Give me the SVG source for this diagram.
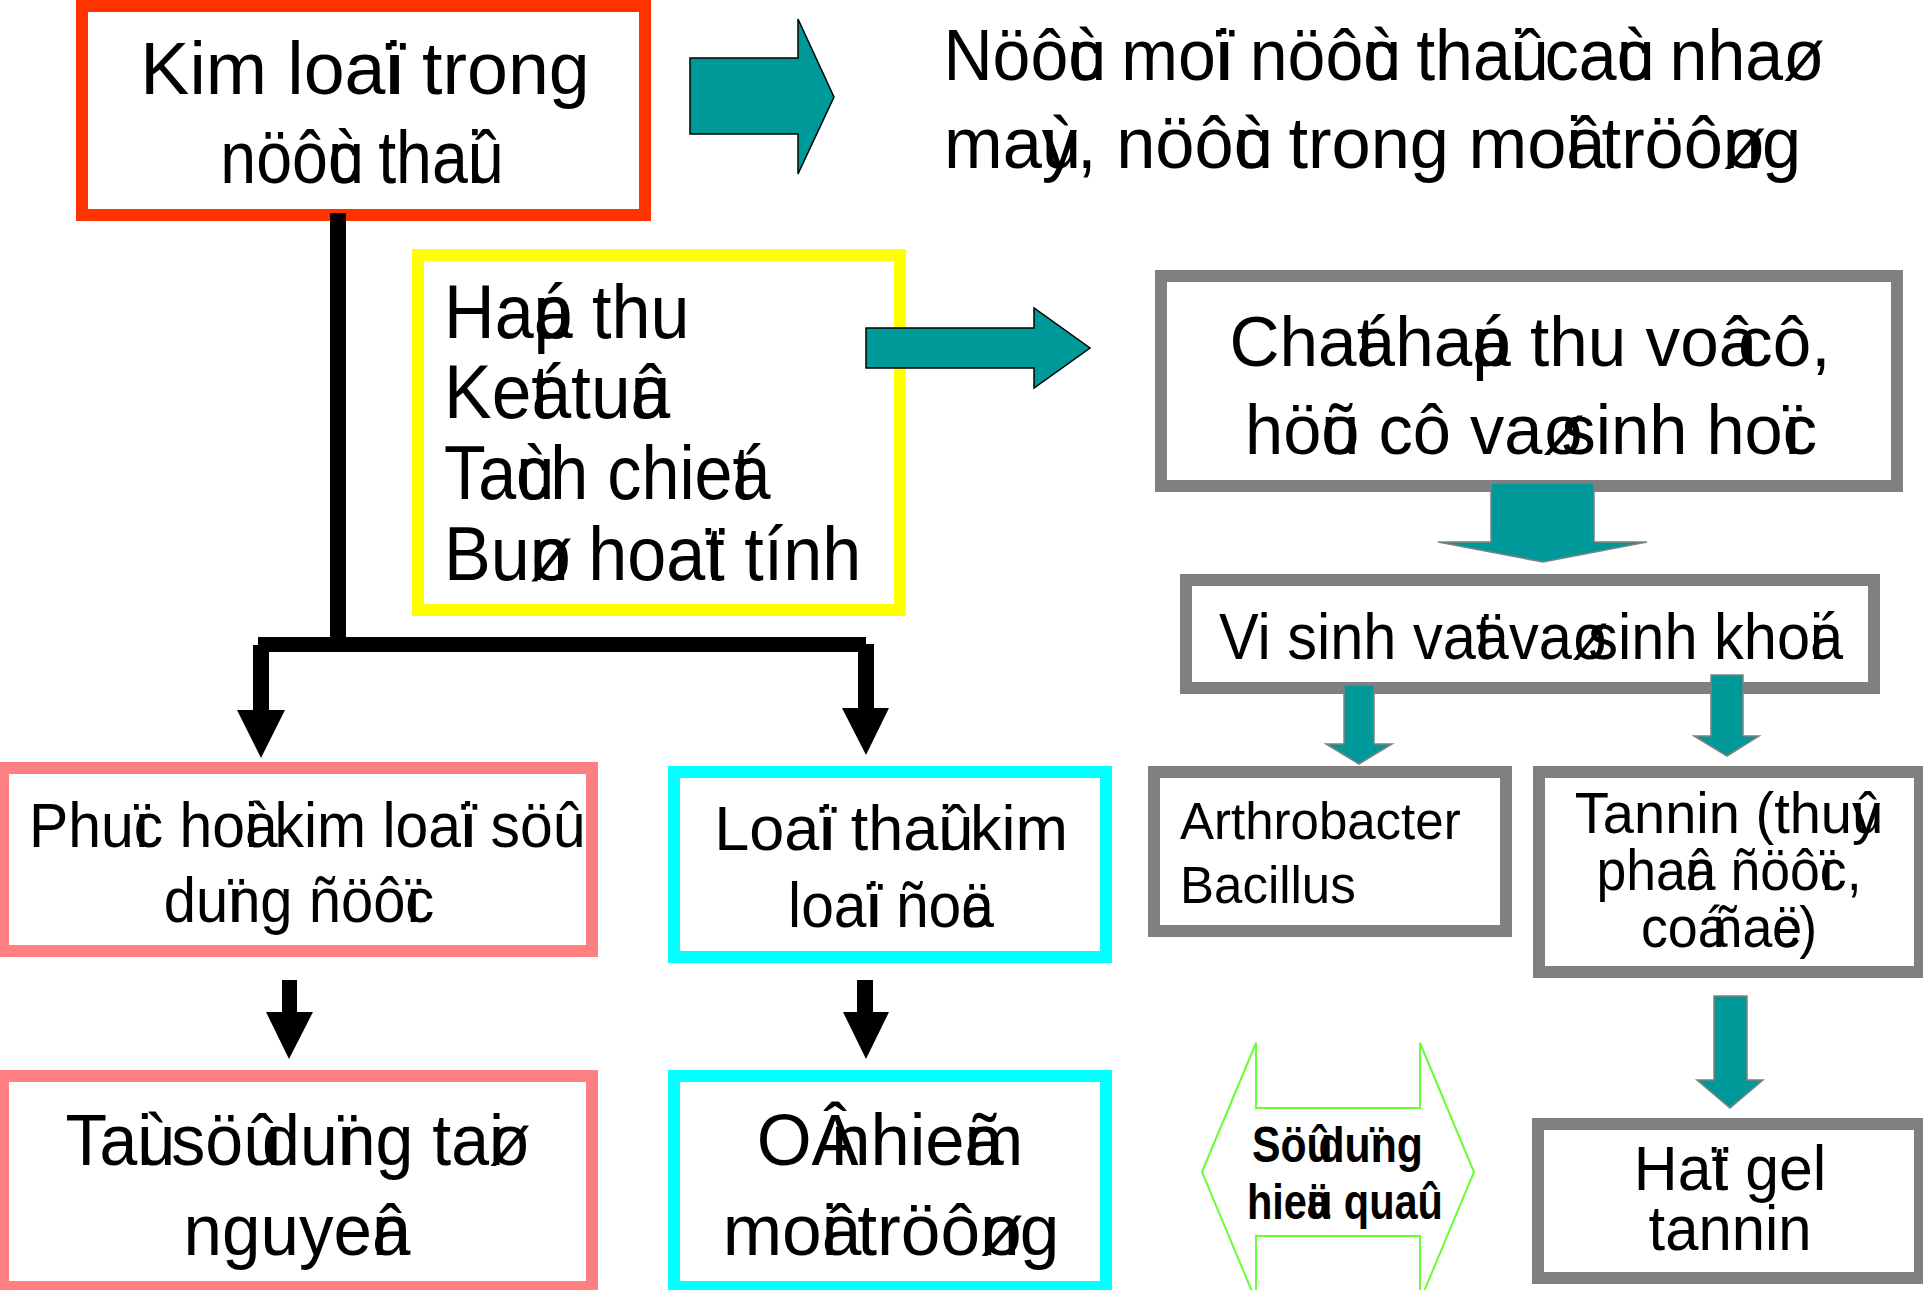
<svg xmlns="http://www.w3.org/2000/svg" width="1923" height="1290" viewBox="0 0 1923 1290">
  <style>
    .box { fill: #fff; stroke-width: 12; }
    .red { stroke: #FF3300; }
    .yel { stroke: #FFFF00; }
    .gray { stroke: #808080; }
    .pink { stroke: #FF8080; }
    .cyan { stroke: #00FFFF; }
    .t { font-family: "Liberation Sans", Arial, sans-serif; fill: #000; white-space: pre; }
    .b { font-weight: bold; }
    .mid { text-anchor: middle; }
    .teal { fill: #009999; stroke: #000; stroke-width: 1.5; }
    .tealg { fill: #009999; stroke: #808080; stroke-width: 1.5; }
    .blk { fill: #000; }
    .dbl { fill: none; stroke: #66FF33; stroke-width: 2; }
  </style>
  <rect width="1923" height="1290" fill="#fff"/>

  <!-- source: metals in wastewater -->
  <g id="node-kim-loai">
    <rect class="box red" x="82" y="6" width="563" height="209"/>
    <text class="t mid" font-size="75" transform="translate(365,94) scale(0.98,1)">Kim loaï<tspan dx="-20.9">i</tspan> trong</text>
    <text class="t mid" font-size="75" transform="translate(362,183) scale(0.86,1)">nöôù<tspan dx="-41.7">c</tspan> thaû<tspan dx="-41.7">i</tspan></text>
  </g>

  <g id="node-nguon">
    <text class="t" font-size="72" transform="translate(943.5,80) scale(0.945,1)">Nöôù<tspan dx="-40">c</tspan> moï<tspan dx="-20">i</tspan> nöôù<tspan dx="-40">c</tspan> thaû<tspan dx="-40">i</tspan> caù<tspan dx="-40">c</tspan> nhaø</text>
    <text class="t" font-size="72" transform="translate(944,168) scale(0.978,1)">maù<tspan dx="-40">y</tspan>, nöôù<tspan dx="-40">c</tspan> trong moâ<tspan dx="-40">i</tspan> tröôø<tspan dx="-44">n</tspan>g</text>
  </g>

  <g id="node-phuong-phap">
    <rect class="box yel" x="418" y="255" width="482" height="355"/>
    <text class="t" font-size="76" transform="translate(444,338) scale(0.923,1)">Haá<tspan dx="-42.3">p</tspan> thu</text>
    <text class="t" font-size="76" transform="translate(444,418) scale(0.94,1)">Keá<tspan dx="-42.3">t</tspan> tuû<tspan dx="-42.3">a</tspan></text>
    <text class="t" font-size="76" transform="translate(444,499) scale(0.899,1)">Taù<tspan dx="-42.3">c</tspan>h chieá<tspan dx="-42.3">t</tspan></text>
    <text class="t" font-size="76" transform="translate(444,580) scale(0.923,1)">Buø<tspan dx="-46.4">n</tspan> hoaï<tspan dx="-21.1">t</tspan> tính</text>
  </g>

  <g id="node-chat-hap-thu">
    <rect class="box gray" x="1161" y="276" width="736" height="210"/>
    <text class="t mid" font-size="70" transform="translate(1530,366) scale(0.99,1)">Chaá<tspan dx="-38.9">t</tspan> haá<tspan dx="-38.9">p</tspan> thu voâ<tspan dx="-38.9"> </tspan>cô,</text>
    <text class="t mid" font-size="70" transform="translate(1531,454) scale(0.98,1)">höõ<tspan dx="-38.9">u</tspan> cô vaø<tspan dx="-42.8"> </tspan>sinh hoï<tspan dx="-19.5">c</tspan></text>
  </g>

  <g id="node-vi-sinh">
    <rect class="box gray" x="1186" y="580" width="688" height="108"/>
    <text class="t mid" font-size="64" transform="translate(1531,659) scale(0.93,1)">Vi sinh vaä<tspan dx="-35.6">t</tspan> vaø<tspan dx="-39.1"> </tspan>sinh khoá<tspan dx="-35.6">i</tspan></text>
  </g>

  <g id="node-arthrobacter">
    <rect class="box gray" x="1154" y="772" width="352" height="159"/>
    <text class="t" font-size="51" x="1180" y="839">Arthrobacter</text>
    <text class="t" font-size="51" x="1180" y="903">Bacillus</text>
  </g>

  <g id="node-tannin">
    <rect class="box gray" x="1539" y="772" width="381" height="200"/>
    <text class="t mid" font-size="57" transform="translate(1729,833) scale(0.983,1)">Tannin (thuû<tspan dx="-31.7">y</tspan></text>
    <text class="t mid" font-size="57" transform="translate(1729,890) scale(0.94,1)">phaâ<tspan dx="-31.7">n</tspan> ñöôï<tspan dx="-15.8">c</tspan>,</text>
    <text class="t mid" font-size="57" transform="translate(1729,947) scale(0.943,1)">coá<tspan dx="-31.7"> </tspan>ñaë<tspan dx="-31.7">c</tspan>)</text>
  </g>

  <g id="node-hat-gel">
    <rect class="box gray" x="1538" y="1124" width="382" height="154"/>
    <text class="t mid" font-size="63" transform="translate(1730,1190) scale(0.964,1)">Haï<tspan dx="-17.5">t</tspan> gel</text>
    <text class="t mid" font-size="63" transform="translate(1730,1250) scale(0.949,1)">tannin</text>
  </g>

  <g id="node-hieu-qua">
    <polygon class="dbl" points="1202,1172 1256,1043 1256,1108 1420,1108 1420,1043 1474,1172 1420,1301 1420,1236 1256,1236 1256,1301"/>
    <text class="t b" font-size="50" transform="translate(1252,1162) scale(0.855,1)">Söû<tspan dx="-30.6"> </tspan>duï<tspan dx="-13.9">n</tspan>g</text>
    <text class="t b" font-size="50" transform="translate(1247,1219) scale(0.83,1)">hieä<tspan dx="-27.8">u</tspan> quaû</text>
  </g>

  <g id="node-phuc-hoi">
    <rect class="box pink" x="3" y="768" width="589" height="183"/>
    <text class="t" font-size="63" transform="translate(29,847) scale(0.935,1)">Phuï<tspan dx="-17.5">c</tspan> hoà<tspan dx="-35">i</tspan> kim loaï<tspan dx="-17.5">i</tspan> söû</text>
    <text class="t mid" font-size="63" transform="translate(299,922) scale(0.92,1)">duï<tspan dx="-17.5">n</tspan>g ñöôï<tspan dx="-17.5">c</tspan></text>
  </g>

  <g id="node-loai-thai">
    <rect class="box cyan" x="674" y="772" width="432" height="185"/>
    <text class="t mid" font-size="63" transform="translate(891,850) scale(1,1)">Loaï<tspan dx="-17.5">i</tspan> thaû<tspan dx="-35">i</tspan> kim</text>
    <text class="t mid" font-size="63" transform="translate(891,927) scale(0.933,1)">loaï<tspan dx="-17.5">i</tspan> ñoä<tspan dx="-35">c</tspan></text>
  </g>

  <g id="node-tai-su-dung">
    <rect class="box pink" x="3" y="1076" width="589" height="211"/>
    <text class="t mid" font-size="72" transform="translate(298,1165) scale(0.945,1)">Taù<tspan dx="-40">i</tspan> söû<tspan dx="-40"> </tspan>duï<tspan dx="-20">n</tspan>g taø<tspan dx="-44">i</tspan></text>
    <text class="t mid" font-size="72" transform="translate(297,1255) scale(0.96,1)">nguyeâ<tspan dx="-40">n</tspan></text>
  </g>

  <g id="node-o-nhiem">
    <rect class="box cyan" x="674" y="1076" width="432" height="211"/>
    <text class="t mid" font-size="72" transform="translate(890,1165) scale(0.98,1)">OÂ<tspan dx="-48"> </tspan>nhieã<tspan dx="-40">m</tspan></text>
    <text class="t mid" font-size="72" transform="translate(891,1255) scale(0.99,1)">moâ<tspan dx="-40">i</tspan> tröôø<tspan dx="-44">n</tspan>g</text>
  </g>

  <g id="connectors">
    <!-- block arrows in teal -->
    <polygon class="teal" points="690,58 798,58 798,19 834,97 798,174 798,134 690,134"/>
    <polygon class="teal" points="866,328 1034,328 1034,308 1090,348 1034,388 1034,368 866,368"/>
    <polygon class="tealg" points="1491,483 1594,483 1594,542 1647,542 1543,562 1438,542 1491,542"/>
    <polygon class="tealg" points="1344,685 1374,685 1374,744 1392,744 1359,764 1326,744 1344,744"/>
    <polygon class="tealg" points="1711,675 1743,675 1743,736 1759,736 1727,756 1694,736 1711,736"/>
    <polygon class="tealg" points="1714,996 1747,996 1747,1080 1763,1080 1730,1108 1697,1080 1714,1080"/>
    <!-- black branching connector -->
    <rect class="blk" x="330" y="213" width="16" height="432"/>
    <rect class="blk" x="258" y="637" width="608" height="15"/>
    <rect class="blk" x="253" y="645" width="16" height="67"/>
    <polygon class="blk" points="237,710 285,710 261,758"/>
    <rect class="blk" x="858" y="644" width="16" height="66"/>
    <polygon class="blk" points="842,708 889,708 866,755"/>
    <!-- short black arrows -->
    <rect class="blk" x="282" y="980" width="15" height="34"/>
    <polygon class="blk" points="266,1012 313,1012 289,1059"/>
    <rect class="blk" x="857" y="980" width="16" height="34"/>
    <polygon class="blk" points="843,1012 889,1012 866,1059"/>
  </g>
</svg>
